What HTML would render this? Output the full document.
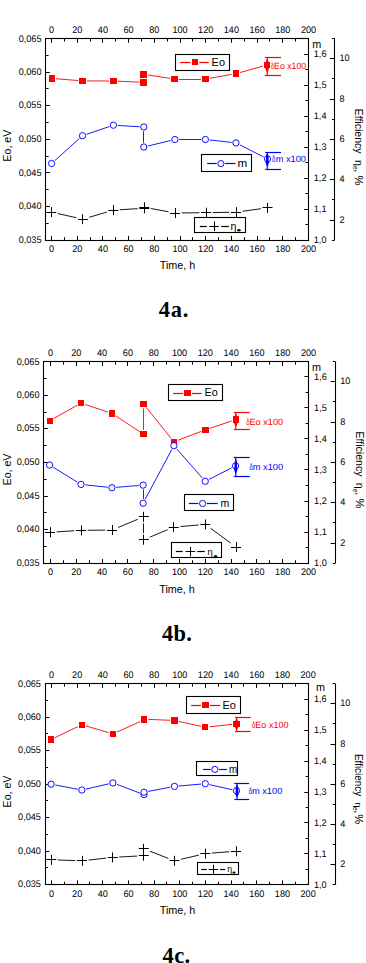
<!DOCTYPE html>
<html><head><meta charset="utf-8"><title>Figure 4</title>
<style>
html,body{margin:0;padding:0;background:#fff;}
body{width:366px;height:963px;overflow:hidden;font-family:"Liberation Sans",sans-serif;}
svg{display:block;}
</style></head><body>
<svg width="366" height="963" viewBox="0 0 366 963">
<rect x="0" y="0" width="366" height="963" fill="#fff"/>
<rect x="45.5" y="38.5" width="263" height="202" fill="none" stroke="#000" stroke-width="1.1"/>
<line x1="51.5" y1="38.5" x2="51.5" y2="42.8" stroke="#000000" stroke-width="1"/>
<line x1="51.5" y1="240.2" x2="51.5" y2="235.9" stroke="#000000" stroke-width="1"/>
<text transform="translate(51.5,33.2) scale(0.95,1)" font-size="9.6" text-anchor="middle" fill="#000000" font-family='"Liberation Sans", sans-serif' text-rendering="geometricPrecision">0</text>
<text transform="translate(51.5,252) scale(0.95,1)" font-size="9.6" text-anchor="middle" fill="#000000" font-family='"Liberation Sans", sans-serif' text-rendering="geometricPrecision">0</text>
<line x1="64.5" y1="38.5" x2="64.5" y2="41.5" stroke="#000000" stroke-width="1"/>
<line x1="64.5" y1="240.2" x2="64.5" y2="237.2" stroke="#000000" stroke-width="1"/>
<line x1="77.5" y1="38.5" x2="77.5" y2="42.8" stroke="#000000" stroke-width="1"/>
<line x1="77.5" y1="240.2" x2="77.5" y2="235.9" stroke="#000000" stroke-width="1"/>
<text transform="translate(77.2,33.2) scale(0.95,1)" font-size="9.6" text-anchor="middle" fill="#000000" font-family='"Liberation Sans", sans-serif' text-rendering="geometricPrecision">20</text>
<text transform="translate(77.2,252) scale(0.95,1)" font-size="9.6" text-anchor="middle" fill="#000000" font-family='"Liberation Sans", sans-serif' text-rendering="geometricPrecision">20</text>
<line x1="90.5" y1="38.5" x2="90.5" y2="41.5" stroke="#000000" stroke-width="1"/>
<line x1="90.5" y1="240.2" x2="90.5" y2="237.2" stroke="#000000" stroke-width="1"/>
<line x1="102.5" y1="38.5" x2="102.5" y2="42.8" stroke="#000000" stroke-width="1"/>
<line x1="102.5" y1="240.2" x2="102.5" y2="235.9" stroke="#000000" stroke-width="1"/>
<text transform="translate(102.9,33.2) scale(0.95,1)" font-size="9.6" text-anchor="middle" fill="#000000" font-family='"Liberation Sans", sans-serif' text-rendering="geometricPrecision">40</text>
<text transform="translate(102.9,252) scale(0.95,1)" font-size="9.6" text-anchor="middle" fill="#000000" font-family='"Liberation Sans", sans-serif' text-rendering="geometricPrecision">40</text>
<line x1="115.5" y1="38.5" x2="115.5" y2="41.5" stroke="#000000" stroke-width="1"/>
<line x1="115.5" y1="240.2" x2="115.5" y2="237.2" stroke="#000000" stroke-width="1"/>
<line x1="128.5" y1="38.5" x2="128.5" y2="42.8" stroke="#000000" stroke-width="1"/>
<line x1="128.5" y1="240.2" x2="128.5" y2="235.9" stroke="#000000" stroke-width="1"/>
<text transform="translate(128.6,33.2) scale(0.95,1)" font-size="9.6" text-anchor="middle" fill="#000000" font-family='"Liberation Sans", sans-serif' text-rendering="geometricPrecision">60</text>
<text transform="translate(128.6,252) scale(0.95,1)" font-size="9.6" text-anchor="middle" fill="#000000" font-family='"Liberation Sans", sans-serif' text-rendering="geometricPrecision">60</text>
<line x1="141.5" y1="38.5" x2="141.5" y2="41.5" stroke="#000000" stroke-width="1"/>
<line x1="141.5" y1="240.2" x2="141.5" y2="237.2" stroke="#000000" stroke-width="1"/>
<line x1="154.5" y1="38.5" x2="154.5" y2="42.8" stroke="#000000" stroke-width="1"/>
<line x1="154.5" y1="240.2" x2="154.5" y2="235.9" stroke="#000000" stroke-width="1"/>
<text transform="translate(154.3,33.2) scale(0.95,1)" font-size="9.6" text-anchor="middle" fill="#000000" font-family='"Liberation Sans", sans-serif' text-rendering="geometricPrecision">80</text>
<text transform="translate(154.3,252) scale(0.95,1)" font-size="9.6" text-anchor="middle" fill="#000000" font-family='"Liberation Sans", sans-serif' text-rendering="geometricPrecision">80</text>
<line x1="167.5" y1="38.5" x2="167.5" y2="41.5" stroke="#000000" stroke-width="1"/>
<line x1="167.5" y1="240.2" x2="167.5" y2="237.2" stroke="#000000" stroke-width="1"/>
<line x1="180.5" y1="38.5" x2="180.5" y2="42.8" stroke="#000000" stroke-width="1"/>
<line x1="180.5" y1="240.2" x2="180.5" y2="235.9" stroke="#000000" stroke-width="1"/>
<text transform="translate(180,33.2) scale(0.95,1)" font-size="9.6" text-anchor="middle" fill="#000000" font-family='"Liberation Sans", sans-serif' text-rendering="geometricPrecision">100</text>
<text transform="translate(180,252) scale(0.95,1)" font-size="9.6" text-anchor="middle" fill="#000000" font-family='"Liberation Sans", sans-serif' text-rendering="geometricPrecision">100</text>
<line x1="192.5" y1="38.5" x2="192.5" y2="41.5" stroke="#000000" stroke-width="1"/>
<line x1="192.5" y1="240.2" x2="192.5" y2="237.2" stroke="#000000" stroke-width="1"/>
<line x1="205.5" y1="38.5" x2="205.5" y2="42.8" stroke="#000000" stroke-width="1"/>
<line x1="205.5" y1="240.2" x2="205.5" y2="235.9" stroke="#000000" stroke-width="1"/>
<text transform="translate(205.7,33.2) scale(0.95,1)" font-size="9.6" text-anchor="middle" fill="#000000" font-family='"Liberation Sans", sans-serif' text-rendering="geometricPrecision">120</text>
<text transform="translate(205.7,252) scale(0.95,1)" font-size="9.6" text-anchor="middle" fill="#000000" font-family='"Liberation Sans", sans-serif' text-rendering="geometricPrecision">120</text>
<line x1="218.5" y1="38.5" x2="218.5" y2="41.5" stroke="#000000" stroke-width="1"/>
<line x1="218.5" y1="240.2" x2="218.5" y2="237.2" stroke="#000000" stroke-width="1"/>
<line x1="231.5" y1="38.5" x2="231.5" y2="42.8" stroke="#000000" stroke-width="1"/>
<line x1="231.5" y1="240.2" x2="231.5" y2="235.9" stroke="#000000" stroke-width="1"/>
<text transform="translate(231.4,33.2) scale(0.95,1)" font-size="9.6" text-anchor="middle" fill="#000000" font-family='"Liberation Sans", sans-serif' text-rendering="geometricPrecision">140</text>
<text transform="translate(231.4,252) scale(0.95,1)" font-size="9.6" text-anchor="middle" fill="#000000" font-family='"Liberation Sans", sans-serif' text-rendering="geometricPrecision">140</text>
<line x1="244.5" y1="38.5" x2="244.5" y2="41.5" stroke="#000000" stroke-width="1"/>
<line x1="244.5" y1="240.2" x2="244.5" y2="237.2" stroke="#000000" stroke-width="1"/>
<line x1="257.5" y1="38.5" x2="257.5" y2="42.8" stroke="#000000" stroke-width="1"/>
<line x1="257.5" y1="240.2" x2="257.5" y2="235.9" stroke="#000000" stroke-width="1"/>
<text transform="translate(257.1,33.2) scale(0.95,1)" font-size="9.6" text-anchor="middle" fill="#000000" font-family='"Liberation Sans", sans-serif' text-rendering="geometricPrecision">160</text>
<text transform="translate(257.1,252) scale(0.95,1)" font-size="9.6" text-anchor="middle" fill="#000000" font-family='"Liberation Sans", sans-serif' text-rendering="geometricPrecision">160</text>
<line x1="269.5" y1="38.5" x2="269.5" y2="41.5" stroke="#000000" stroke-width="1"/>
<line x1="269.5" y1="240.2" x2="269.5" y2="237.2" stroke="#000000" stroke-width="1"/>
<line x1="282.5" y1="38.5" x2="282.5" y2="42.8" stroke="#000000" stroke-width="1"/>
<line x1="282.5" y1="240.2" x2="282.5" y2="235.9" stroke="#000000" stroke-width="1"/>
<text transform="translate(282.8,33.2) scale(0.95,1)" font-size="9.6" text-anchor="middle" fill="#000000" font-family='"Liberation Sans", sans-serif' text-rendering="geometricPrecision">180</text>
<text transform="translate(282.8,252) scale(0.95,1)" font-size="9.6" text-anchor="middle" fill="#000000" font-family='"Liberation Sans", sans-serif' text-rendering="geometricPrecision">180</text>
<line x1="295.5" y1="38.5" x2="295.5" y2="41.5" stroke="#000000" stroke-width="1"/>
<line x1="295.5" y1="240.2" x2="295.5" y2="237.2" stroke="#000000" stroke-width="1"/>
<line x1="308.5" y1="38.5" x2="308.5" y2="42.8" stroke="#000000" stroke-width="1"/>
<line x1="308.5" y1="240.2" x2="308.5" y2="235.9" stroke="#000000" stroke-width="1"/>
<text transform="translate(308.5,33.2) scale(0.95,1)" font-size="9.6" text-anchor="middle" fill="#000000" font-family='"Liberation Sans", sans-serif' text-rendering="geometricPrecision">200</text>
<text transform="translate(308.5,252) scale(0.95,1)" font-size="9.6" text-anchor="middle" fill="#000000" font-family='"Liberation Sans", sans-serif' text-rendering="geometricPrecision">200</text>
<line x1="45.6" y1="240.5" x2="49.9" y2="240.5" stroke="#000000" stroke-width="1"/>
<text transform="translate(41.5,242.8) scale(0.95,1)" font-size="9.6" text-anchor="end" fill="#000000" font-family='"Liberation Sans", sans-serif' text-rendering="geometricPrecision">0,035</text>
<line x1="45.6" y1="223.5" x2="48.6" y2="223.5" stroke="#000000" stroke-width="1"/>
<line x1="45.6" y1="206.5" x2="49.9" y2="206.5" stroke="#000000" stroke-width="1"/>
<text transform="translate(41.5,209.18) scale(0.95,1)" font-size="9.6" text-anchor="end" fill="#000000" font-family='"Liberation Sans", sans-serif' text-rendering="geometricPrecision">0,040</text>
<line x1="45.6" y1="189.5" x2="48.6" y2="189.5" stroke="#000000" stroke-width="1"/>
<line x1="45.6" y1="172.5" x2="49.9" y2="172.5" stroke="#000000" stroke-width="1"/>
<text transform="translate(41.5,175.57) scale(0.95,1)" font-size="9.6" text-anchor="end" fill="#000000" font-family='"Liberation Sans", sans-serif' text-rendering="geometricPrecision">0,045</text>
<line x1="45.6" y1="156.5" x2="48.6" y2="156.5" stroke="#000000" stroke-width="1"/>
<line x1="45.6" y1="139.5" x2="49.9" y2="139.5" stroke="#000000" stroke-width="1"/>
<text transform="translate(41.5,141.95) scale(0.95,1)" font-size="9.6" text-anchor="end" fill="#000000" font-family='"Liberation Sans", sans-serif' text-rendering="geometricPrecision">0,050</text>
<line x1="45.6" y1="122.5" x2="48.6" y2="122.5" stroke="#000000" stroke-width="1"/>
<line x1="45.6" y1="105.5" x2="49.9" y2="105.5" stroke="#000000" stroke-width="1"/>
<text transform="translate(41.5,108.33) scale(0.95,1)" font-size="9.6" text-anchor="end" fill="#000000" font-family='"Liberation Sans", sans-serif' text-rendering="geometricPrecision">0,055</text>
<line x1="45.6" y1="88.5" x2="48.6" y2="88.5" stroke="#000000" stroke-width="1"/>
<line x1="45.6" y1="72.5" x2="49.9" y2="72.5" stroke="#000000" stroke-width="1"/>
<text transform="translate(41.5,74.72) scale(0.95,1)" font-size="9.6" text-anchor="end" fill="#000000" font-family='"Liberation Sans", sans-serif' text-rendering="geometricPrecision">0,060</text>
<line x1="45.6" y1="55.5" x2="48.6" y2="55.5" stroke="#000000" stroke-width="1"/>
<line x1="45.6" y1="38.5" x2="49.9" y2="38.5" stroke="#000000" stroke-width="1"/>
<text transform="translate(41.5,41.8) scale(0.95,1)" font-size="9.6" text-anchor="end" fill="#000000" font-family='"Liberation Sans", sans-serif' text-rendering="geometricPrecision">0,065</text>
<line x1="308.4" y1="240.5" x2="304.1" y2="240.5" stroke="#000000" stroke-width="1"/>
<text transform="translate(313.8,243.1) scale(0.95,1)" font-size="9.6" text-anchor="start" fill="#000000" font-family='"Liberation Sans", sans-serif' text-rendering="geometricPrecision">1,0</text>
<line x1="308.4" y1="224.5" x2="305.4" y2="224.5" stroke="#000000" stroke-width="1"/>
<line x1="308.4" y1="209.5" x2="304.1" y2="209.5" stroke="#000000" stroke-width="1"/>
<text transform="translate(313.8,212.13) scale(0.95,1)" font-size="9.6" text-anchor="start" fill="#000000" font-family='"Liberation Sans", sans-serif' text-rendering="geometricPrecision">1,1</text>
<line x1="308.4" y1="193.5" x2="305.4" y2="193.5" stroke="#000000" stroke-width="1"/>
<line x1="308.4" y1="178.5" x2="304.1" y2="178.5" stroke="#000000" stroke-width="1"/>
<text transform="translate(313.8,181.17) scale(0.95,1)" font-size="9.6" text-anchor="start" fill="#000000" font-family='"Liberation Sans", sans-serif' text-rendering="geometricPrecision">1,2</text>
<line x1="308.4" y1="162.5" x2="305.4" y2="162.5" stroke="#000000" stroke-width="1"/>
<line x1="308.4" y1="147.5" x2="304.1" y2="147.5" stroke="#000000" stroke-width="1"/>
<text transform="translate(313.8,150.2) scale(0.95,1)" font-size="9.6" text-anchor="start" fill="#000000" font-family='"Liberation Sans", sans-serif' text-rendering="geometricPrecision">1,3</text>
<line x1="308.4" y1="131.5" x2="305.4" y2="131.5" stroke="#000000" stroke-width="1"/>
<line x1="308.4" y1="116.5" x2="304.1" y2="116.5" stroke="#000000" stroke-width="1"/>
<text transform="translate(313.8,119.23) scale(0.95,1)" font-size="9.6" text-anchor="start" fill="#000000" font-family='"Liberation Sans", sans-serif' text-rendering="geometricPrecision">1,4</text>
<line x1="308.4" y1="100.5" x2="305.4" y2="100.5" stroke="#000000" stroke-width="1"/>
<line x1="308.4" y1="85.5" x2="304.1" y2="85.5" stroke="#000000" stroke-width="1"/>
<text transform="translate(313.8,88.27) scale(0.95,1)" font-size="9.6" text-anchor="start" fill="#000000" font-family='"Liberation Sans", sans-serif' text-rendering="geometricPrecision">1,5</text>
<line x1="308.4" y1="69.5" x2="305.4" y2="69.5" stroke="#000000" stroke-width="1"/>
<line x1="308.4" y1="54.5" x2="304.1" y2="54.5" stroke="#000000" stroke-width="1"/>
<text transform="translate(313.8,57.3) scale(0.95,1)" font-size="9.6" text-anchor="start" fill="#000000" font-family='"Liberation Sans", sans-serif' text-rendering="geometricPrecision">1,6</text>
<text x="312.2" y="47.8" font-size="10.8" text-anchor="start" fill="#000000" font-family='"Liberation Sans", sans-serif' font-weight="normal">m</text>
<line x1="334.5" y1="38.5" x2="334.5" y2="240.2" stroke="#000000" stroke-width="1.1"/>
<line x1="334.6" y1="240.5" x2="332" y2="240.5" stroke="#000000" stroke-width="1"/>
<line x1="334.6" y1="220.5" x2="329.8" y2="220.5" stroke="#000000" stroke-width="1"/>
<text transform="translate(339.5,222.53) scale(0.95,1)" font-size="9.6" text-anchor="start" fill="#000000" font-family='"Liberation Sans", sans-serif' text-rendering="geometricPrecision">2</text>
<line x1="334.6" y1="199.5" x2="332" y2="199.5" stroke="#000000" stroke-width="1"/>
<line x1="334.6" y1="179.5" x2="329.8" y2="179.5" stroke="#000000" stroke-width="1"/>
<text transform="translate(339.5,182.19) scale(0.95,1)" font-size="9.6" text-anchor="start" fill="#000000" font-family='"Liberation Sans", sans-serif' text-rendering="geometricPrecision">4</text>
<line x1="334.6" y1="159.5" x2="332" y2="159.5" stroke="#000000" stroke-width="1"/>
<line x1="334.6" y1="139.5" x2="329.8" y2="139.5" stroke="#000000" stroke-width="1"/>
<text transform="translate(339.5,141.85) scale(0.95,1)" font-size="9.6" text-anchor="start" fill="#000000" font-family='"Liberation Sans", sans-serif' text-rendering="geometricPrecision">6</text>
<line x1="334.6" y1="119.5" x2="332" y2="119.5" stroke="#000000" stroke-width="1"/>
<line x1="334.6" y1="99.5" x2="329.8" y2="99.5" stroke="#000000" stroke-width="1"/>
<text transform="translate(339.5,101.51) scale(0.95,1)" font-size="9.6" text-anchor="start" fill="#000000" font-family='"Liberation Sans", sans-serif' text-rendering="geometricPrecision">8</text>
<line x1="334.6" y1="78.5" x2="332" y2="78.5" stroke="#000000" stroke-width="1"/>
<line x1="334.6" y1="58.5" x2="329.8" y2="58.5" stroke="#000000" stroke-width="1"/>
<text transform="translate(339.5,61.17) scale(0.95,1)" font-size="9.6" text-anchor="start" fill="#000000" font-family='"Liberation Sans", sans-serif' text-rendering="geometricPrecision">10</text>
<line x1="334.6" y1="38.5" x2="332" y2="38.5" stroke="#000000" stroke-width="1"/>
<text transform="translate(10.8,161.5) rotate(-90)" font-size="11.2" font-family='"Liberation Sans", sans-serif' fill="#000" textLength="31.7" lengthAdjust="spacingAndGlyphs">Eo, eV</text>
<g transform="translate(355.2,108.7) rotate(90)">
<text x="0" y="0" font-size="10.6" font-family='"Liberation Sans", sans-serif' fill="#000" textLength="44.8" lengthAdjust="spacingAndGlyphs">Efficiency</text>
<text x="51.2" y="0" font-size="10.8" font-family='"Liberation Sans", sans-serif' fill="#000">&#951;</text>
<text x="57.2" y="2.2" font-size="6.5" font-family='"Liberation Sans", sans-serif' fill="#000">e</text>
<text x="60.6" y="0" font-size="10.6" font-family='"Liberation Sans", sans-serif' fill="#000">,</text>
<text x="66.8" y="0" font-size="11.2" font-family='"Liberation Sans", sans-serif' fill="#000">%</text>
</g>
<text x="159.7" y="269.2" font-size="11" text-anchor="start" fill="#000000" font-family='"Liberation Sans", sans-serif' font-weight="normal" textLength="35.6" lengthAdjust="spacingAndGlyphs">Time, h</text>
<text x="158.7" y="316.7" font-size="22.5" text-anchor="start" fill="#000000" font-family='"Liberation Serif", serif' font-weight="bold" letter-spacing="0.8">4a.</text>
<line x1="56.19" y1="78.76" x2="78.11" y2="80.54" stroke="#ff0000" stroke-width="0.9"/>
<line x1="86.9" y1="80.91" x2="109" y2="80.99" stroke="#ff0000" stroke-width="0.9"/>
<line x1="117.8" y1="81.19" x2="139.3" y2="82.11" stroke="#ff0000" stroke-width="0.9"/>
<line x1="148.05" y1="74.97" x2="170.05" y2="78.33" stroke="#ff0000" stroke-width="0.9"/>
<line x1="178.8" y1="79.5" x2="201" y2="79.5" stroke="#ff0000" stroke-width="0.9"/>
<line x1="209.73" y1="78.24" x2="231.47" y2="74.46" stroke="#ff0000" stroke-width="0.9"/>
<line x1="240.04" y1="72.52" x2="262.76" y2="66.18" stroke="#ff0000" stroke-width="0.9"/>
<line x1="54.8" y1="160.62" x2="79.3" y2="138.58" stroke="#0000ff" stroke-width="0.9"/>
<line x1="86.57" y1="134.32" x2="109.33" y2="126.58" stroke="#0000ff" stroke-width="0.9"/>
<line x1="117.69" y1="125.45" x2="139.51" y2="126.75" stroke="#0000ff" stroke-width="0.9"/>
<line x1="143.5" y1="131.3" x2="143.5" y2="142.7" stroke="#0000ff" stroke-width="0.9"/>
<line x1="147.98" y1="145.99" x2="170.72" y2="140.51" stroke="#0000ff" stroke-width="0.9"/>
<line x1="179.2" y1="139.5" x2="201.1" y2="139.5" stroke="#0000ff" stroke-width="0.9"/>
<line x1="209.67" y1="139.98" x2="231.63" y2="142.42" stroke="#0000ff" stroke-width="0.9"/>
<line x1="239.74" y1="144.84" x2="263.66" y2="156.96" stroke="#0000ff" stroke-width="0.9"/>
<line x1="57.74" y1="213.55" x2="76.46" y2="217.75" stroke="#000" stroke-width="1" stroke-opacity="0.9"/>
<line x1="89.22" y1="217.3" x2="106.88" y2="212" stroke="#000" stroke-width="1" stroke-opacity="0.9"/>
<line x1="119.79" y1="209.72" x2="137.71" y2="208.68" stroke="#000" stroke-width="1" stroke-opacity="0.9"/>
<line x1="150.79" y1="208.5" x2="168.51" y2="211.8" stroke="#000" stroke-width="1" stroke-opacity="0.9"/>
<line x1="181.6" y1="212.94" x2="199.4" y2="212.76" stroke="#000" stroke-width="1" stroke-opacity="0.9"/>
<line x1="212.6" y1="212.59" x2="229.4" y2="212.31" stroke="#000" stroke-width="1" stroke-opacity="0.9"/>
<line x1="242.54" y1="211.29" x2="260.96" y2="208.71" stroke="#000" stroke-width="1" stroke-opacity="0.9"/>
<rect x="49" y="75" width="6" height="7" fill="#ff0000" shape-rendering="crispEdges"/>
<rect x="79" y="78" width="7" height="6" fill="#ff0000" shape-rendering="crispEdges"/>
<rect x="110" y="78" width="7" height="6" fill="#ff0000" shape-rendering="crispEdges"/>
<rect x="140" y="79" width="7" height="7" fill="#ff0000" shape-rendering="crispEdges"/>
<rect x="140" y="71" width="7" height="7" fill="#ff0000" shape-rendering="crispEdges"/>
<rect x="171" y="76" width="7" height="6" fill="#ff0000" shape-rendering="crispEdges"/>
<rect x="202" y="76" width="7" height="6" fill="#ff0000" shape-rendering="crispEdges"/>
<rect x="233" y="70" width="6" height="7" fill="#ff0000" shape-rendering="crispEdges"/>
<rect x="264" y="62" width="6" height="6" fill="#ff0000" shape-rendering="crispEdges"/>
<circle cx="51.6" cy="163.5" r="3.15" fill="#fff" stroke="#0000ff" stroke-width="0.95"/>
<circle cx="82.5" cy="135.7" r="3.15" fill="#fff" stroke="#0000ff" stroke-width="0.95"/>
<circle cx="113.4" cy="125.2" r="3.15" fill="#fff" stroke="#0000ff" stroke-width="0.95"/>
<circle cx="143.8" cy="127" r="3.15" fill="#fff" stroke="#0000ff" stroke-width="0.95"/>
<circle cx="143.8" cy="147" r="3.15" fill="#fff" stroke="#0000ff" stroke-width="0.95"/>
<circle cx="174.9" cy="139.5" r="3.15" fill="#fff" stroke="#0000ff" stroke-width="0.95"/>
<circle cx="205.4" cy="139.5" r="3.15" fill="#fff" stroke="#0000ff" stroke-width="0.95"/>
<circle cx="235.9" cy="142.9" r="3.15" fill="#fff" stroke="#0000ff" stroke-width="0.95"/>
<circle cx="267.5" cy="158.9" r="3.15" fill="#fff" stroke="#0000ff" stroke-width="0.95"/>
<line x1="46.3" y1="212.5" x2="56.3" y2="212.5" stroke="#000000" stroke-width="1.05"/>
<line x1="51.5" y1="207.1" x2="51.5" y2="217.1" stroke="#000000" stroke-width="1.05"/>
<line x1="77.9" y1="219.5" x2="87.9" y2="219.5" stroke="#000000" stroke-width="1.05"/>
<line x1="82.5" y1="214.2" x2="82.5" y2="224.2" stroke="#000000" stroke-width="1.05"/>
<line x1="108.2" y1="210.5" x2="118.2" y2="210.5" stroke="#000000" stroke-width="1.05"/>
<line x1="113.5" y1="205.1" x2="113.5" y2="215.1" stroke="#000000" stroke-width="1.05"/>
<line x1="139.3" y1="208.5" x2="149.3" y2="208.5" stroke="#000000" stroke-width="1.05"/>
<line x1="144.5" y1="203.3" x2="144.5" y2="213.3" stroke="#000000" stroke-width="1.05"/>
<line x1="139.3" y1="207.5" x2="149.3" y2="207.5" stroke="#000000" stroke-width="1.05"/>
<line x1="144.5" y1="202.3" x2="144.5" y2="212.3" stroke="#000000" stroke-width="1.05"/>
<line x1="170" y1="213.5" x2="180" y2="213.5" stroke="#000000" stroke-width="1.05"/>
<line x1="175.5" y1="208" x2="175.5" y2="218" stroke="#000000" stroke-width="1.05"/>
<line x1="201" y1="212.5" x2="211" y2="212.5" stroke="#000000" stroke-width="1.05"/>
<line x1="206.5" y1="207.7" x2="206.5" y2="217.7" stroke="#000000" stroke-width="1.05"/>
<line x1="231" y1="212.5" x2="241" y2="212.5" stroke="#000000" stroke-width="1.05"/>
<line x1="236.5" y1="207.2" x2="236.5" y2="217.2" stroke="#000000" stroke-width="1.05"/>
<line x1="262.5" y1="207.5" x2="272.5" y2="207.5" stroke="#000000" stroke-width="1.05"/>
<line x1="267.5" y1="202.8" x2="267.5" y2="212.8" stroke="#000000" stroke-width="1.05"/>
<line x1="265" y1="57.5" x2="281" y2="57.5" stroke="#ff0000" stroke-width="1.2"/>
<line x1="265" y1="75.5" x2="281" y2="75.5" stroke="#ff0000" stroke-width="1.2"/>
<line x1="267.2" y1="57.4" x2="267.2" y2="75.4" stroke="#ff0000" stroke-width="1.1"/>
<polygon points="267.2,58 268.5,61.8 268.5,67.6 269.1,68.2 267.2,73.8 265.3,68.2 265.9,67.6 265.9,61.8" fill="#ff0000"/>
<text transform="translate(270.8,68.9) scale(0.68,1)" font-size="8.8" text-anchor="start" fill="#ff0000" font-family='"Liberation Sans", sans-serif' text-rendering="geometricPrecision">&#948;</text>
<text transform="translate(274.1,68.9) scale(0.97,1)" font-size="9" text-anchor="start" fill="#ff0000" font-family='"Liberation Sans", sans-serif' text-rendering="geometricPrecision">Eo x100</text>
<line x1="265.2" y1="152.5" x2="281" y2="152.5" stroke="#0000ff" stroke-width="1.2"/>
<line x1="265.2" y1="169.5" x2="281" y2="169.5" stroke="#0000ff" stroke-width="1.2"/>
<line x1="267.3" y1="152.4" x2="267.3" y2="169.3" stroke="#0000ff" stroke-width="1.1"/>
<polygon points="267.3,153 268.6,155.7 268.6,161.5 269.2,162.1 267.3,167.7 265.4,162.1 266,161.5 266,155.7" fill="#0000ff"/>
<text transform="translate(272,161.8) scale(0.68,1)" font-size="8.8" text-anchor="start" fill="#0000ff" font-family='"Liberation Sans", sans-serif' text-rendering="geometricPrecision">&#948;</text>
<text transform="translate(275.8,161.8) scale(1.02,1)" font-size="9" text-anchor="start" fill="#0000ff" font-family='"Liberation Sans", sans-serif' text-rendering="geometricPrecision">m x100</text>
<rect x="175.5" y="54.5" width="54" height="16" fill="#fff" stroke="#000" stroke-width="1.1"/>
<line x1="180.1" y1="62.5" x2="190.6" y2="62.5" stroke="#ff0000" stroke-width="1.2"/>
<line x1="199.4" y1="62.5" x2="208.7" y2="62.5" stroke="#ff0000" stroke-width="1.2"/>
<rect x="192" y="59" width="6" height="6" fill="#ff0000" shape-rendering="crispEdges"/>
<text x="211.6" y="66.1" font-size="11" text-anchor="start" fill="#000000" font-family='"Liberation Sans", sans-serif' font-weight="normal" textLength="13.4" lengthAdjust="spacingAndGlyphs">Eo</text>
<rect x="201.5" y="154.5" width="50" height="17" fill="#fff" stroke="#000" stroke-width="1.1"/>
<line x1="207.1" y1="163.5" x2="216.7" y2="163.5" stroke="#0000ff" stroke-width="1.2"/>
<line x1="225.1" y1="163.5" x2="235.5" y2="163.5" stroke="#0000ff" stroke-width="1.2"/>
<circle cx="220.9" cy="163.6" r="3.1" fill="#fff" stroke="#0000ff" stroke-width="0.95"/>
<text x="237.4" y="166.8" font-size="11.4" text-anchor="start" fill="#000000" font-family='"Liberation Sans", sans-serif' font-weight="normal" textLength="9.7" lengthAdjust="spacingAndGlyphs">m</text>
<rect x="194.5" y="217.5" width="51" height="15" fill="#fff" stroke="#000" stroke-width="1.1"/>
<line x1="199.8" y1="226.5" x2="206.7" y2="226.5" stroke="#000000" stroke-width="1.2"/>
<line x1="221.2" y1="226.5" x2="228.8" y2="226.5" stroke="#000000" stroke-width="1.2"/>
<line x1="209.2" y1="226.5" x2="218.8" y2="226.5" stroke="#000000" stroke-width="1.05"/>
<line x1="214.5" y1="221.5" x2="214.5" y2="231.1" stroke="#000000" stroke-width="1.05"/>
<text x="230.5" y="229.8" font-size="10.6" text-anchor="start" fill="#000000" font-family='"Liberation Sans", sans-serif' font-weight="normal">&#951;</text>
<ellipse cx="238.9" cy="230.2" rx="1.8" ry="1.3" fill="#111"/>
<rect x="43.5" y="361.5" width="265" height="202" fill="none" stroke="#000" stroke-width="1.1"/>
<line x1="50.5" y1="361.6" x2="50.5" y2="365.9" stroke="#000000" stroke-width="1"/>
<line x1="50.5" y1="563.3" x2="50.5" y2="559" stroke="#000000" stroke-width="1"/>
<text transform="translate(50.5,356.3) scale(0.95,1)" font-size="9.6" text-anchor="middle" fill="#000000" font-family='"Liberation Sans", sans-serif' text-rendering="geometricPrecision">0</text>
<text transform="translate(50.5,575.1) scale(0.95,1)" font-size="9.6" text-anchor="middle" fill="#000000" font-family='"Liberation Sans", sans-serif' text-rendering="geometricPrecision">0</text>
<line x1="63.5" y1="361.6" x2="63.5" y2="364.6" stroke="#000000" stroke-width="1"/>
<line x1="63.5" y1="563.3" x2="63.5" y2="560.3" stroke="#000000" stroke-width="1"/>
<line x1="76.5" y1="361.6" x2="76.5" y2="365.9" stroke="#000000" stroke-width="1"/>
<line x1="76.5" y1="563.3" x2="76.5" y2="559" stroke="#000000" stroke-width="1"/>
<text transform="translate(76.3,356.3) scale(0.95,1)" font-size="9.6" text-anchor="middle" fill="#000000" font-family='"Liberation Sans", sans-serif' text-rendering="geometricPrecision">20</text>
<text transform="translate(76.3,575.1) scale(0.95,1)" font-size="9.6" text-anchor="middle" fill="#000000" font-family='"Liberation Sans", sans-serif' text-rendering="geometricPrecision">20</text>
<line x1="89.5" y1="361.6" x2="89.5" y2="364.6" stroke="#000000" stroke-width="1"/>
<line x1="89.5" y1="563.3" x2="89.5" y2="560.3" stroke="#000000" stroke-width="1"/>
<line x1="102.5" y1="361.6" x2="102.5" y2="365.9" stroke="#000000" stroke-width="1"/>
<line x1="102.5" y1="563.3" x2="102.5" y2="559" stroke="#000000" stroke-width="1"/>
<text transform="translate(102.1,356.3) scale(0.95,1)" font-size="9.6" text-anchor="middle" fill="#000000" font-family='"Liberation Sans", sans-serif' text-rendering="geometricPrecision">40</text>
<text transform="translate(102.1,575.1) scale(0.95,1)" font-size="9.6" text-anchor="middle" fill="#000000" font-family='"Liberation Sans", sans-serif' text-rendering="geometricPrecision">40</text>
<line x1="115.5" y1="361.6" x2="115.5" y2="364.6" stroke="#000000" stroke-width="1"/>
<line x1="115.5" y1="563.3" x2="115.5" y2="560.3" stroke="#000000" stroke-width="1"/>
<line x1="127.5" y1="361.6" x2="127.5" y2="365.9" stroke="#000000" stroke-width="1"/>
<line x1="127.5" y1="563.3" x2="127.5" y2="559" stroke="#000000" stroke-width="1"/>
<text transform="translate(127.9,356.3) scale(0.95,1)" font-size="9.6" text-anchor="middle" fill="#000000" font-family='"Liberation Sans", sans-serif' text-rendering="geometricPrecision">60</text>
<text transform="translate(127.9,575.1) scale(0.95,1)" font-size="9.6" text-anchor="middle" fill="#000000" font-family='"Liberation Sans", sans-serif' text-rendering="geometricPrecision">60</text>
<line x1="140.5" y1="361.6" x2="140.5" y2="364.6" stroke="#000000" stroke-width="1"/>
<line x1="140.5" y1="563.3" x2="140.5" y2="560.3" stroke="#000000" stroke-width="1"/>
<line x1="153.5" y1="361.6" x2="153.5" y2="365.9" stroke="#000000" stroke-width="1"/>
<line x1="153.5" y1="563.3" x2="153.5" y2="559" stroke="#000000" stroke-width="1"/>
<text transform="translate(153.7,356.3) scale(0.95,1)" font-size="9.6" text-anchor="middle" fill="#000000" font-family='"Liberation Sans", sans-serif' text-rendering="geometricPrecision">80</text>
<text transform="translate(153.7,575.1) scale(0.95,1)" font-size="9.6" text-anchor="middle" fill="#000000" font-family='"Liberation Sans", sans-serif' text-rendering="geometricPrecision">80</text>
<line x1="166.5" y1="361.6" x2="166.5" y2="364.6" stroke="#000000" stroke-width="1"/>
<line x1="166.5" y1="563.3" x2="166.5" y2="560.3" stroke="#000000" stroke-width="1"/>
<line x1="179.5" y1="361.6" x2="179.5" y2="365.9" stroke="#000000" stroke-width="1"/>
<line x1="179.5" y1="563.3" x2="179.5" y2="559" stroke="#000000" stroke-width="1"/>
<text transform="translate(179.5,356.3) scale(0.95,1)" font-size="9.6" text-anchor="middle" fill="#000000" font-family='"Liberation Sans", sans-serif' text-rendering="geometricPrecision">100</text>
<text transform="translate(179.5,575.1) scale(0.95,1)" font-size="9.6" text-anchor="middle" fill="#000000" font-family='"Liberation Sans", sans-serif' text-rendering="geometricPrecision">100</text>
<line x1="192.5" y1="361.6" x2="192.5" y2="364.6" stroke="#000000" stroke-width="1"/>
<line x1="192.5" y1="563.3" x2="192.5" y2="560.3" stroke="#000000" stroke-width="1"/>
<line x1="205.5" y1="361.6" x2="205.5" y2="365.9" stroke="#000000" stroke-width="1"/>
<line x1="205.5" y1="563.3" x2="205.5" y2="559" stroke="#000000" stroke-width="1"/>
<text transform="translate(205.3,356.3) scale(0.95,1)" font-size="9.6" text-anchor="middle" fill="#000000" font-family='"Liberation Sans", sans-serif' text-rendering="geometricPrecision">120</text>
<text transform="translate(205.3,575.1) scale(0.95,1)" font-size="9.6" text-anchor="middle" fill="#000000" font-family='"Liberation Sans", sans-serif' text-rendering="geometricPrecision">120</text>
<line x1="218.5" y1="361.6" x2="218.5" y2="364.6" stroke="#000000" stroke-width="1"/>
<line x1="218.5" y1="563.3" x2="218.5" y2="560.3" stroke="#000000" stroke-width="1"/>
<line x1="231.5" y1="361.6" x2="231.5" y2="365.9" stroke="#000000" stroke-width="1"/>
<line x1="231.5" y1="563.3" x2="231.5" y2="559" stroke="#000000" stroke-width="1"/>
<text transform="translate(231.1,356.3) scale(0.95,1)" font-size="9.6" text-anchor="middle" fill="#000000" font-family='"Liberation Sans", sans-serif' text-rendering="geometricPrecision">140</text>
<text transform="translate(231.1,575.1) scale(0.95,1)" font-size="9.6" text-anchor="middle" fill="#000000" font-family='"Liberation Sans", sans-serif' text-rendering="geometricPrecision">140</text>
<line x1="244.5" y1="361.6" x2="244.5" y2="364.6" stroke="#000000" stroke-width="1"/>
<line x1="244.5" y1="563.3" x2="244.5" y2="560.3" stroke="#000000" stroke-width="1"/>
<line x1="256.5" y1="361.6" x2="256.5" y2="365.9" stroke="#000000" stroke-width="1"/>
<line x1="256.5" y1="563.3" x2="256.5" y2="559" stroke="#000000" stroke-width="1"/>
<text transform="translate(256.9,356.3) scale(0.95,1)" font-size="9.6" text-anchor="middle" fill="#000000" font-family='"Liberation Sans", sans-serif' text-rendering="geometricPrecision">160</text>
<text transform="translate(256.9,575.1) scale(0.95,1)" font-size="9.6" text-anchor="middle" fill="#000000" font-family='"Liberation Sans", sans-serif' text-rendering="geometricPrecision">160</text>
<line x1="269.5" y1="361.6" x2="269.5" y2="364.6" stroke="#000000" stroke-width="1"/>
<line x1="269.5" y1="563.3" x2="269.5" y2="560.3" stroke="#000000" stroke-width="1"/>
<line x1="282.5" y1="361.6" x2="282.5" y2="365.9" stroke="#000000" stroke-width="1"/>
<line x1="282.5" y1="563.3" x2="282.5" y2="559" stroke="#000000" stroke-width="1"/>
<text transform="translate(282.7,356.3) scale(0.95,1)" font-size="9.6" text-anchor="middle" fill="#000000" font-family='"Liberation Sans", sans-serif' text-rendering="geometricPrecision">180</text>
<text transform="translate(282.7,575.1) scale(0.95,1)" font-size="9.6" text-anchor="middle" fill="#000000" font-family='"Liberation Sans", sans-serif' text-rendering="geometricPrecision">180</text>
<line x1="295.5" y1="361.6" x2="295.5" y2="364.6" stroke="#000000" stroke-width="1"/>
<line x1="295.5" y1="563.3" x2="295.5" y2="560.3" stroke="#000000" stroke-width="1"/>
<line x1="308.5" y1="361.6" x2="308.5" y2="365.9" stroke="#000000" stroke-width="1"/>
<line x1="308.5" y1="563.3" x2="308.5" y2="559" stroke="#000000" stroke-width="1"/>
<text transform="translate(308.5,356.3) scale(0.95,1)" font-size="9.6" text-anchor="middle" fill="#000000" font-family='"Liberation Sans", sans-serif' text-rendering="geometricPrecision">200</text>
<text transform="translate(308.5,575.1) scale(0.95,1)" font-size="9.6" text-anchor="middle" fill="#000000" font-family='"Liberation Sans", sans-serif' text-rendering="geometricPrecision">200</text>
<line x1="43.6" y1="563.5" x2="47.9" y2="563.5" stroke="#000000" stroke-width="1"/>
<text transform="translate(39.5,565.9) scale(0.95,1)" font-size="9.6" text-anchor="end" fill="#000000" font-family='"Liberation Sans", sans-serif' text-rendering="geometricPrecision">0,035</text>
<line x1="43.6" y1="546.5" x2="46.6" y2="546.5" stroke="#000000" stroke-width="1"/>
<line x1="43.6" y1="529.5" x2="47.9" y2="529.5" stroke="#000000" stroke-width="1"/>
<text transform="translate(39.5,532.28) scale(0.95,1)" font-size="9.6" text-anchor="end" fill="#000000" font-family='"Liberation Sans", sans-serif' text-rendering="geometricPrecision">0,040</text>
<line x1="43.6" y1="512.5" x2="46.6" y2="512.5" stroke="#000000" stroke-width="1"/>
<line x1="43.6" y1="496.5" x2="47.9" y2="496.5" stroke="#000000" stroke-width="1"/>
<text transform="translate(39.5,498.67) scale(0.95,1)" font-size="9.6" text-anchor="end" fill="#000000" font-family='"Liberation Sans", sans-serif' text-rendering="geometricPrecision">0,045</text>
<line x1="43.6" y1="479.5" x2="46.6" y2="479.5" stroke="#000000" stroke-width="1"/>
<line x1="43.6" y1="462.5" x2="47.9" y2="462.5" stroke="#000000" stroke-width="1"/>
<text transform="translate(39.5,465.05) scale(0.95,1)" font-size="9.6" text-anchor="end" fill="#000000" font-family='"Liberation Sans", sans-serif' text-rendering="geometricPrecision">0,050</text>
<line x1="43.6" y1="445.5" x2="46.6" y2="445.5" stroke="#000000" stroke-width="1"/>
<line x1="43.6" y1="428.5" x2="47.9" y2="428.5" stroke="#000000" stroke-width="1"/>
<text transform="translate(39.5,431.43) scale(0.95,1)" font-size="9.6" text-anchor="end" fill="#000000" font-family='"Liberation Sans", sans-serif' text-rendering="geometricPrecision">0,055</text>
<line x1="43.6" y1="412.5" x2="46.6" y2="412.5" stroke="#000000" stroke-width="1"/>
<line x1="43.6" y1="395.5" x2="47.9" y2="395.5" stroke="#000000" stroke-width="1"/>
<text transform="translate(39.5,397.82) scale(0.95,1)" font-size="9.6" text-anchor="end" fill="#000000" font-family='"Liberation Sans", sans-serif' text-rendering="geometricPrecision">0,060</text>
<line x1="43.6" y1="378.5" x2="46.6" y2="378.5" stroke="#000000" stroke-width="1"/>
<line x1="43.6" y1="361.5" x2="47.9" y2="361.5" stroke="#000000" stroke-width="1"/>
<text transform="translate(39.5,364.9) scale(0.95,1)" font-size="9.6" text-anchor="end" fill="#000000" font-family='"Liberation Sans", sans-serif' text-rendering="geometricPrecision">0,065</text>
<line x1="308.7" y1="563.5" x2="304.4" y2="563.5" stroke="#000000" stroke-width="1"/>
<text transform="translate(314.1,566.2) scale(0.95,1)" font-size="9.6" text-anchor="start" fill="#000000" font-family='"Liberation Sans", sans-serif' text-rendering="geometricPrecision">1,0</text>
<line x1="308.7" y1="547.5" x2="305.7" y2="547.5" stroke="#000000" stroke-width="1"/>
<line x1="308.7" y1="532.5" x2="304.4" y2="532.5" stroke="#000000" stroke-width="1"/>
<text transform="translate(314.1,535.08) scale(0.95,1)" font-size="9.6" text-anchor="start" fill="#000000" font-family='"Liberation Sans", sans-serif' text-rendering="geometricPrecision">1,1</text>
<line x1="308.7" y1="516.5" x2="305.7" y2="516.5" stroke="#000000" stroke-width="1"/>
<line x1="308.7" y1="501.5" x2="304.4" y2="501.5" stroke="#000000" stroke-width="1"/>
<text transform="translate(314.1,503.97) scale(0.95,1)" font-size="9.6" text-anchor="start" fill="#000000" font-family='"Liberation Sans", sans-serif' text-rendering="geometricPrecision">1,2</text>
<line x1="308.7" y1="485.5" x2="305.7" y2="485.5" stroke="#000000" stroke-width="1"/>
<line x1="308.7" y1="469.5" x2="304.4" y2="469.5" stroke="#000000" stroke-width="1"/>
<text transform="translate(314.1,472.85) scale(0.95,1)" font-size="9.6" text-anchor="start" fill="#000000" font-family='"Liberation Sans", sans-serif' text-rendering="geometricPrecision">1,3</text>
<line x1="308.7" y1="454.5" x2="305.7" y2="454.5" stroke="#000000" stroke-width="1"/>
<line x1="308.7" y1="438.5" x2="304.4" y2="438.5" stroke="#000000" stroke-width="1"/>
<text transform="translate(314.1,441.73) scale(0.95,1)" font-size="9.6" text-anchor="start" fill="#000000" font-family='"Liberation Sans", sans-serif' text-rendering="geometricPrecision">1,4</text>
<line x1="308.7" y1="423.5" x2="305.7" y2="423.5" stroke="#000000" stroke-width="1"/>
<line x1="308.7" y1="407.5" x2="304.4" y2="407.5" stroke="#000000" stroke-width="1"/>
<text transform="translate(314.1,410.62) scale(0.95,1)" font-size="9.6" text-anchor="start" fill="#000000" font-family='"Liberation Sans", sans-serif' text-rendering="geometricPrecision">1,5</text>
<line x1="308.7" y1="392.5" x2="305.7" y2="392.5" stroke="#000000" stroke-width="1"/>
<line x1="308.7" y1="376.5" x2="304.4" y2="376.5" stroke="#000000" stroke-width="1"/>
<text transform="translate(314.1,379.5) scale(0.95,1)" font-size="9.6" text-anchor="start" fill="#000000" font-family='"Liberation Sans", sans-serif' text-rendering="geometricPrecision">1,6</text>
<text x="311.9" y="370.9" font-size="10.8" text-anchor="start" fill="#000000" font-family='"Liberation Sans", sans-serif' font-weight="normal">m</text>
<line x1="335.5" y1="361.6" x2="335.5" y2="563.3" stroke="#000000" stroke-width="1.1"/>
<line x1="335.4" y1="563.5" x2="332.8" y2="563.5" stroke="#000000" stroke-width="1"/>
<line x1="335.4" y1="543.5" x2="330.6" y2="543.5" stroke="#000000" stroke-width="1"/>
<text transform="translate(340.3,545.63) scale(0.95,1)" font-size="9.6" text-anchor="start" fill="#000000" font-family='"Liberation Sans", sans-serif' text-rendering="geometricPrecision">2</text>
<line x1="335.4" y1="522.5" x2="332.8" y2="522.5" stroke="#000000" stroke-width="1"/>
<line x1="335.4" y1="502.5" x2="330.6" y2="502.5" stroke="#000000" stroke-width="1"/>
<text transform="translate(340.3,505.29) scale(0.95,1)" font-size="9.6" text-anchor="start" fill="#000000" font-family='"Liberation Sans", sans-serif' text-rendering="geometricPrecision">4</text>
<line x1="335.4" y1="482.5" x2="332.8" y2="482.5" stroke="#000000" stroke-width="1"/>
<line x1="335.4" y1="462.5" x2="330.6" y2="462.5" stroke="#000000" stroke-width="1"/>
<text transform="translate(340.3,464.95) scale(0.95,1)" font-size="9.6" text-anchor="start" fill="#000000" font-family='"Liberation Sans", sans-serif' text-rendering="geometricPrecision">6</text>
<line x1="335.4" y1="442.5" x2="332.8" y2="442.5" stroke="#000000" stroke-width="1"/>
<line x1="335.4" y1="422.5" x2="330.6" y2="422.5" stroke="#000000" stroke-width="1"/>
<text transform="translate(340.3,424.61) scale(0.95,1)" font-size="9.6" text-anchor="start" fill="#000000" font-family='"Liberation Sans", sans-serif' text-rendering="geometricPrecision">8</text>
<line x1="335.4" y1="401.5" x2="332.8" y2="401.5" stroke="#000000" stroke-width="1"/>
<line x1="335.4" y1="381.5" x2="330.6" y2="381.5" stroke="#000000" stroke-width="1"/>
<text transform="translate(340.3,384.27) scale(0.95,1)" font-size="9.6" text-anchor="start" fill="#000000" font-family='"Liberation Sans", sans-serif' text-rendering="geometricPrecision">10</text>
<line x1="335.4" y1="361.5" x2="332.8" y2="361.5" stroke="#000000" stroke-width="1"/>
<text transform="translate(10.5,485.3) rotate(-90)" font-size="11.2" font-family='"Liberation Sans", sans-serif' fill="#000" textLength="31.7" lengthAdjust="spacingAndGlyphs">Eo, eV</text>
<g transform="translate(355.6,431.6) rotate(90)">
<text x="0" y="0" font-size="10.6" font-family='"Liberation Sans", sans-serif' fill="#000" textLength="44.8" lengthAdjust="spacingAndGlyphs">Efficiency</text>
<text x="51.2" y="0" font-size="10.8" font-family='"Liberation Sans", sans-serif' fill="#000">&#951;</text>
<text x="57.2" y="2.2" font-size="6.5" font-family='"Liberation Sans", sans-serif' fill="#000">e</text>
<text x="60.6" y="0" font-size="10.6" font-family='"Liberation Sans", sans-serif' fill="#000">,</text>
<text x="66.8" y="0" font-size="11.2" font-family='"Liberation Sans", sans-serif' fill="#000">%</text>
</g>
<text x="159.2" y="593" font-size="11" text-anchor="start" fill="#000000" font-family='"Liberation Sans", sans-serif' font-weight="normal" textLength="35.6" lengthAdjust="spacingAndGlyphs">Time, h</text>
<text x="161.9" y="640.9" font-size="22.4" text-anchor="start" fill="#000000" font-family='"Liberation Serif", serif' font-weight="bold" letter-spacing="0.3">4b.</text>
<line x1="53.63" y1="418.54" x2="77.17" y2="405.26" stroke="#ff0000" stroke-width="0.9"/>
<line x1="85.17" y1="404.49" x2="107.73" y2="412.01" stroke="#ff0000" stroke-width="0.9"/>
<line x1="115.58" y1="415.82" x2="139.82" y2="431.78" stroke="#ff0000" stroke-width="0.9"/>
<line x1="143.5" y1="429.8" x2="143.5" y2="408.4" stroke="#ff0000" stroke-width="0.9"/>
<line x1="146.26" y1="407.43" x2="171.14" y2="438.37" stroke="#ff0000" stroke-width="0.9"/>
<line x1="178.01" y1="440.23" x2="201.29" y2="431.37" stroke="#ff0000" stroke-width="0.9"/>
<line x1="209.57" y1="428.4" x2="231.63" y2="421" stroke="#ff0000" stroke-width="0.9"/>
<line x1="53.26" y1="467.26" x2="77.34" y2="482.14" stroke="#0000ff" stroke-width="0.9"/>
<line x1="85.28" y1="484.86" x2="107.62" y2="487.24" stroke="#0000ff" stroke-width="0.9"/>
<line x1="116.19" y1="487.34" x2="138.81" y2="485.46" stroke="#0000ff" stroke-width="0.9"/>
<line x1="143.5" y1="489.4" x2="143.5" y2="498.9" stroke="#0000ff" stroke-width="0.9"/>
<line x1="145.13" y1="499.41" x2="171.87" y2="449.39" stroke="#0000ff" stroke-width="0.9"/>
<line x1="176.73" y1="448.83" x2="202.37" y2="478.07" stroke="#0000ff" stroke-width="0.9"/>
<line x1="209.04" y1="479.36" x2="231.76" y2="467.84" stroke="#0000ff" stroke-width="0.9"/>
<line x1="56.59" y1="531.82" x2="74.41" y2="530.78" stroke="#000" stroke-width="1" stroke-opacity="0.9"/>
<line x1="87.6" y1="530.31" x2="105.4" y2="530.09" stroke="#000" stroke-width="1" stroke-opacity="0.9"/>
<line x1="118.1" y1="527.47" x2="137.7" y2="519.33" stroke="#000" stroke-width="1" stroke-opacity="0.9"/>
<line x1="143.5" y1="523.4" x2="143.5" y2="533.1" stroke="#000" stroke-width="1" stroke-opacity="0.9"/>
<line x1="149.89" y1="537.14" x2="167.71" y2="529.66" stroke="#000" stroke-width="1" stroke-opacity="0.9"/>
<line x1="180.38" y1="526.54" x2="198.72" y2="524.96" stroke="#000" stroke-width="1" stroke-opacity="0.9"/>
<line x1="210.62" y1="528.31" x2="230.68" y2="543.09" stroke="#000" stroke-width="1" stroke-opacity="0.9"/>
<rect x="47" y="418" width="6" height="6" fill="#ff0000" shape-rendering="crispEdges"/>
<rect x="78" y="400" width="6" height="6" fill="#ff0000" shape-rendering="crispEdges"/>
<rect x="109" y="410" width="6" height="7" fill="#ff0000" shape-rendering="crispEdges"/>
<rect x="140" y="431" width="7" height="6" fill="#ff0000" shape-rendering="crispEdges"/>
<rect x="140" y="401" width="7" height="6" fill="#ff0000" shape-rendering="crispEdges"/>
<rect x="171" y="439" width="6" height="6" fill="#ff0000" shape-rendering="crispEdges"/>
<rect x="202" y="427" width="7" height="6" fill="#ff0000" shape-rendering="crispEdges"/>
<rect x="233" y="416" width="6" height="7" fill="#ff0000" shape-rendering="crispEdges"/>
<circle cx="49.6" cy="465" r="3.15" fill="#fff" stroke="#0000ff" stroke-width="0.95"/>
<circle cx="81" cy="484.4" r="3.15" fill="#fff" stroke="#0000ff" stroke-width="0.95"/>
<circle cx="111.9" cy="487.7" r="3.15" fill="#fff" stroke="#0000ff" stroke-width="0.95"/>
<circle cx="143.1" cy="485.1" r="3.15" fill="#fff" stroke="#0000ff" stroke-width="0.95"/>
<circle cx="143.1" cy="503.2" r="3.15" fill="#fff" stroke="#0000ff" stroke-width="0.95"/>
<circle cx="173.9" cy="445.6" r="3.15" fill="#fff" stroke="#0000ff" stroke-width="0.95"/>
<circle cx="205.2" cy="481.3" r="3.15" fill="#fff" stroke="#0000ff" stroke-width="0.95"/>
<circle cx="235.6" cy="465.9" r="3.15" fill="#fff" stroke="#0000ff" stroke-width="0.95"/>
<line x1="45" y1="532.5" x2="55" y2="532.5" stroke="#000000" stroke-width="1.05"/>
<line x1="50.5" y1="527.2" x2="50.5" y2="537.2" stroke="#000000" stroke-width="1.05"/>
<line x1="76" y1="530.5" x2="86" y2="530.5" stroke="#000000" stroke-width="1.05"/>
<line x1="81.5" y1="525.4" x2="81.5" y2="535.4" stroke="#000000" stroke-width="1.05"/>
<line x1="107" y1="530.5" x2="117" y2="530.5" stroke="#000000" stroke-width="1.05"/>
<line x1="112.5" y1="525" x2="112.5" y2="535" stroke="#000000" stroke-width="1.05"/>
<line x1="138.8" y1="516.5" x2="148.8" y2="516.5" stroke="#000000" stroke-width="1.05"/>
<line x1="143.5" y1="511.8" x2="143.5" y2="521.8" stroke="#000000" stroke-width="1.05"/>
<line x1="138.8" y1="539.5" x2="148.8" y2="539.5" stroke="#000000" stroke-width="1.05"/>
<line x1="143.5" y1="534.7" x2="143.5" y2="544.7" stroke="#000000" stroke-width="1.05"/>
<line x1="168.8" y1="527.5" x2="178.8" y2="527.5" stroke="#000000" stroke-width="1.05"/>
<line x1="173.5" y1="522.1" x2="173.5" y2="532.1" stroke="#000000" stroke-width="1.05"/>
<line x1="200.3" y1="524.5" x2="210.3" y2="524.5" stroke="#000000" stroke-width="1.05"/>
<line x1="205.5" y1="519.4" x2="205.5" y2="529.4" stroke="#000000" stroke-width="1.05"/>
<line x1="231" y1="547.5" x2="241" y2="547.5" stroke="#000000" stroke-width="1.05"/>
<line x1="236.5" y1="542" x2="236.5" y2="552" stroke="#000000" stroke-width="1.05"/>
<line x1="233.8" y1="412.5" x2="249.7" y2="412.5" stroke="#ff0000" stroke-width="1.2"/>
<line x1="233.8" y1="429.5" x2="249.7" y2="429.5" stroke="#ff0000" stroke-width="1.2"/>
<line x1="235.8" y1="412.1" x2="235.8" y2="429.2" stroke="#ff0000" stroke-width="1.1"/>
<polygon points="235.8,412.7 237.1,416.4 237.1,422.2 237.7,422.8 235.8,427.6 233.9,422.8 234.5,422.2 234.5,416.4" fill="#ff0000"/>
<text transform="translate(246.2,424.9) scale(0.68,1)" font-size="8.8" text-anchor="start" fill="#ff0000" font-family='"Liberation Sans", sans-serif' text-rendering="geometricPrecision">&#948;</text>
<text transform="translate(249.5,424.9) scale(1.02,1)" font-size="9" text-anchor="start" fill="#ff0000" font-family='"Liberation Sans", sans-serif' text-rendering="geometricPrecision">Eo x100</text>
<line x1="233.8" y1="457.5" x2="249.7" y2="457.5" stroke="#0000ff" stroke-width="1.2"/>
<line x1="233.8" y1="476.5" x2="249.7" y2="476.5" stroke="#0000ff" stroke-width="1.2"/>
<line x1="235.8" y1="457.3" x2="235.8" y2="476.2" stroke="#0000ff" stroke-width="1.1"/>
<polygon points="235.8,457.9 237.1,462.7 237.1,468.5 237.7,469.1 235.8,474.6 233.9,469.1 234.5,468.5 234.5,462.7" fill="#0000ff"/>
<text transform="translate(249.5,469.8) scale(0.68,1)" font-size="8.8" text-anchor="start" fill="#0000ff" font-family='"Liberation Sans", sans-serif' text-rendering="geometricPrecision">&#948;</text>
<text transform="translate(252.7,469.8) scale(1.03,1)" font-size="9" text-anchor="start" fill="#0000ff" font-family='"Liberation Sans", sans-serif' text-rendering="geometricPrecision">m x100</text>
<rect x="168.5" y="384.5" width="54" height="16" fill="#fff" stroke="#000" stroke-width="1.1"/>
<line x1="173.1" y1="393.5" x2="183.1" y2="393.5" stroke="#ff0000" stroke-width="1.2"/>
<line x1="191.9" y1="393.5" x2="201.7" y2="393.5" stroke="#ff0000" stroke-width="1.2"/>
<rect x="184" y="390" width="7" height="6" fill="#ff0000" shape-rendering="crispEdges"/>
<text x="204.5" y="396" font-size="11" text-anchor="start" fill="#000000" font-family='"Liberation Sans", sans-serif' font-weight="normal" textLength="13.3" lengthAdjust="spacingAndGlyphs">Eo</text>
<rect x="184.5" y="494.5" width="49" height="16" fill="#fff" stroke="#000" stroke-width="1.1"/>
<line x1="188.9" y1="503.5" x2="198.4" y2="503.5" stroke="#0000ff" stroke-width="1.2"/>
<line x1="206.8" y1="503.5" x2="217.7" y2="503.5" stroke="#0000ff" stroke-width="1.2"/>
<circle cx="202.6" cy="503.5" r="3.1" fill="#fff" stroke="#0000ff" stroke-width="0.95"/>
<text x="220.4" y="506.8" font-size="11" text-anchor="start" fill="#000000" font-family='"Liberation Sans", sans-serif' font-weight="normal" textLength="8.8" lengthAdjust="spacingAndGlyphs">m</text>
<rect x="171.5" y="542.5" width="50" height="15" fill="#fff" stroke="#000" stroke-width="1.1"/>
<line x1="175.8" y1="551.5" x2="182.7" y2="551.5" stroke="#000000" stroke-width="1.2"/>
<line x1="197.2" y1="551.5" x2="204.8" y2="551.5" stroke="#000000" stroke-width="1.2"/>
<line x1="185.6" y1="551.5" x2="195.2" y2="551.5" stroke="#000000" stroke-width="1.05"/>
<line x1="190.5" y1="546.8" x2="190.5" y2="556.4" stroke="#000000" stroke-width="1.05"/>
<text x="207.4" y="555.4" font-size="9.5" text-anchor="start" fill="#000000" font-family='"Liberation Sans", sans-serif' font-weight="normal">&#951;</text>
<ellipse cx="215.6" cy="556.7" rx="1.9" ry="1.6" fill="#111"/>
<rect x="45.5" y="683.5" width="263" height="201" fill="none" stroke="#000" stroke-width="1.1"/>
<line x1="51.5" y1="683.7" x2="51.5" y2="688" stroke="#000000" stroke-width="1"/>
<line x1="51.5" y1="884.7" x2="51.5" y2="880.4" stroke="#000000" stroke-width="1"/>
<text transform="translate(51.5,678.4) scale(0.95,1)" font-size="9.6" text-anchor="middle" fill="#000000" font-family='"Liberation Sans", sans-serif' text-rendering="geometricPrecision">0</text>
<text transform="translate(51.5,896.5) scale(0.95,1)" font-size="9.6" text-anchor="middle" fill="#000000" font-family='"Liberation Sans", sans-serif' text-rendering="geometricPrecision">0</text>
<line x1="64.5" y1="683.7" x2="64.5" y2="686.7" stroke="#000000" stroke-width="1"/>
<line x1="64.5" y1="884.7" x2="64.5" y2="881.7" stroke="#000000" stroke-width="1"/>
<line x1="77.5" y1="683.7" x2="77.5" y2="688" stroke="#000000" stroke-width="1"/>
<line x1="77.5" y1="884.7" x2="77.5" y2="880.4" stroke="#000000" stroke-width="1"/>
<text transform="translate(77.16,678.4) scale(0.95,1)" font-size="9.6" text-anchor="middle" fill="#000000" font-family='"Liberation Sans", sans-serif' text-rendering="geometricPrecision">20</text>
<text transform="translate(77.16,896.5) scale(0.95,1)" font-size="9.6" text-anchor="middle" fill="#000000" font-family='"Liberation Sans", sans-serif' text-rendering="geometricPrecision">20</text>
<line x1="89.5" y1="683.7" x2="89.5" y2="686.7" stroke="#000000" stroke-width="1"/>
<line x1="89.5" y1="884.7" x2="89.5" y2="881.7" stroke="#000000" stroke-width="1"/>
<line x1="102.5" y1="683.7" x2="102.5" y2="688" stroke="#000000" stroke-width="1"/>
<line x1="102.5" y1="884.7" x2="102.5" y2="880.4" stroke="#000000" stroke-width="1"/>
<text transform="translate(102.82,678.4) scale(0.95,1)" font-size="9.6" text-anchor="middle" fill="#000000" font-family='"Liberation Sans", sans-serif' text-rendering="geometricPrecision">40</text>
<text transform="translate(102.82,896.5) scale(0.95,1)" font-size="9.6" text-anchor="middle" fill="#000000" font-family='"Liberation Sans", sans-serif' text-rendering="geometricPrecision">40</text>
<line x1="115.5" y1="683.7" x2="115.5" y2="686.7" stroke="#000000" stroke-width="1"/>
<line x1="115.5" y1="884.7" x2="115.5" y2="881.7" stroke="#000000" stroke-width="1"/>
<line x1="128.5" y1="683.7" x2="128.5" y2="688" stroke="#000000" stroke-width="1"/>
<line x1="128.5" y1="884.7" x2="128.5" y2="880.4" stroke="#000000" stroke-width="1"/>
<text transform="translate(128.48,678.4) scale(0.95,1)" font-size="9.6" text-anchor="middle" fill="#000000" font-family='"Liberation Sans", sans-serif' text-rendering="geometricPrecision">60</text>
<text transform="translate(128.48,896.5) scale(0.95,1)" font-size="9.6" text-anchor="middle" fill="#000000" font-family='"Liberation Sans", sans-serif' text-rendering="geometricPrecision">60</text>
<line x1="141.5" y1="683.7" x2="141.5" y2="686.7" stroke="#000000" stroke-width="1"/>
<line x1="141.5" y1="884.7" x2="141.5" y2="881.7" stroke="#000000" stroke-width="1"/>
<line x1="154.5" y1="683.7" x2="154.5" y2="688" stroke="#000000" stroke-width="1"/>
<line x1="154.5" y1="884.7" x2="154.5" y2="880.4" stroke="#000000" stroke-width="1"/>
<text transform="translate(154.14,678.4) scale(0.95,1)" font-size="9.6" text-anchor="middle" fill="#000000" font-family='"Liberation Sans", sans-serif' text-rendering="geometricPrecision">80</text>
<text transform="translate(154.14,896.5) scale(0.95,1)" font-size="9.6" text-anchor="middle" fill="#000000" font-family='"Liberation Sans", sans-serif' text-rendering="geometricPrecision">80</text>
<line x1="166.5" y1="683.7" x2="166.5" y2="686.7" stroke="#000000" stroke-width="1"/>
<line x1="166.5" y1="884.7" x2="166.5" y2="881.7" stroke="#000000" stroke-width="1"/>
<line x1="179.5" y1="683.7" x2="179.5" y2="688" stroke="#000000" stroke-width="1"/>
<line x1="179.5" y1="884.7" x2="179.5" y2="880.4" stroke="#000000" stroke-width="1"/>
<text transform="translate(179.8,678.4) scale(0.95,1)" font-size="9.6" text-anchor="middle" fill="#000000" font-family='"Liberation Sans", sans-serif' text-rendering="geometricPrecision">100</text>
<text transform="translate(179.8,896.5) scale(0.95,1)" font-size="9.6" text-anchor="middle" fill="#000000" font-family='"Liberation Sans", sans-serif' text-rendering="geometricPrecision">100</text>
<line x1="192.5" y1="683.7" x2="192.5" y2="686.7" stroke="#000000" stroke-width="1"/>
<line x1="192.5" y1="884.7" x2="192.5" y2="881.7" stroke="#000000" stroke-width="1"/>
<line x1="205.5" y1="683.7" x2="205.5" y2="688" stroke="#000000" stroke-width="1"/>
<line x1="205.5" y1="884.7" x2="205.5" y2="880.4" stroke="#000000" stroke-width="1"/>
<text transform="translate(205.46,678.4) scale(0.95,1)" font-size="9.6" text-anchor="middle" fill="#000000" font-family='"Liberation Sans", sans-serif' text-rendering="geometricPrecision">120</text>
<text transform="translate(205.46,896.5) scale(0.95,1)" font-size="9.6" text-anchor="middle" fill="#000000" font-family='"Liberation Sans", sans-serif' text-rendering="geometricPrecision">120</text>
<line x1="218.5" y1="683.7" x2="218.5" y2="686.7" stroke="#000000" stroke-width="1"/>
<line x1="218.5" y1="884.7" x2="218.5" y2="881.7" stroke="#000000" stroke-width="1"/>
<line x1="231.5" y1="683.7" x2="231.5" y2="688" stroke="#000000" stroke-width="1"/>
<line x1="231.5" y1="884.7" x2="231.5" y2="880.4" stroke="#000000" stroke-width="1"/>
<text transform="translate(231.12,678.4) scale(0.95,1)" font-size="9.6" text-anchor="middle" fill="#000000" font-family='"Liberation Sans", sans-serif' text-rendering="geometricPrecision">140</text>
<text transform="translate(231.12,896.5) scale(0.95,1)" font-size="9.6" text-anchor="middle" fill="#000000" font-family='"Liberation Sans", sans-serif' text-rendering="geometricPrecision">140</text>
<line x1="243.5" y1="683.7" x2="243.5" y2="686.7" stroke="#000000" stroke-width="1"/>
<line x1="243.5" y1="884.7" x2="243.5" y2="881.7" stroke="#000000" stroke-width="1"/>
<line x1="256.5" y1="683.7" x2="256.5" y2="688" stroke="#000000" stroke-width="1"/>
<line x1="256.5" y1="884.7" x2="256.5" y2="880.4" stroke="#000000" stroke-width="1"/>
<text transform="translate(256.78,678.4) scale(0.95,1)" font-size="9.6" text-anchor="middle" fill="#000000" font-family='"Liberation Sans", sans-serif' text-rendering="geometricPrecision">160</text>
<text transform="translate(256.78,896.5) scale(0.95,1)" font-size="9.6" text-anchor="middle" fill="#000000" font-family='"Liberation Sans", sans-serif' text-rendering="geometricPrecision">160</text>
<line x1="269.5" y1="683.7" x2="269.5" y2="686.7" stroke="#000000" stroke-width="1"/>
<line x1="269.5" y1="884.7" x2="269.5" y2="881.7" stroke="#000000" stroke-width="1"/>
<line x1="282.5" y1="683.7" x2="282.5" y2="688" stroke="#000000" stroke-width="1"/>
<line x1="282.5" y1="884.7" x2="282.5" y2="880.4" stroke="#000000" stroke-width="1"/>
<text transform="translate(282.44,678.4) scale(0.95,1)" font-size="9.6" text-anchor="middle" fill="#000000" font-family='"Liberation Sans", sans-serif' text-rendering="geometricPrecision">180</text>
<text transform="translate(282.44,896.5) scale(0.95,1)" font-size="9.6" text-anchor="middle" fill="#000000" font-family='"Liberation Sans", sans-serif' text-rendering="geometricPrecision">180</text>
<line x1="295.5" y1="683.7" x2="295.5" y2="686.7" stroke="#000000" stroke-width="1"/>
<line x1="295.5" y1="884.7" x2="295.5" y2="881.7" stroke="#000000" stroke-width="1"/>
<line x1="308.5" y1="683.7" x2="308.5" y2="688" stroke="#000000" stroke-width="1"/>
<line x1="308.5" y1="884.7" x2="308.5" y2="880.4" stroke="#000000" stroke-width="1"/>
<text transform="translate(308.1,678.4) scale(0.95,1)" font-size="9.6" text-anchor="middle" fill="#000000" font-family='"Liberation Sans", sans-serif' text-rendering="geometricPrecision">200</text>
<text transform="translate(308.1,896.5) scale(0.95,1)" font-size="9.6" text-anchor="middle" fill="#000000" font-family='"Liberation Sans", sans-serif' text-rendering="geometricPrecision">200</text>
<line x1="45" y1="884.5" x2="49.3" y2="884.5" stroke="#000000" stroke-width="1"/>
<text transform="translate(40.9,887.3) scale(0.95,1)" font-size="9.6" text-anchor="end" fill="#000000" font-family='"Liberation Sans", sans-serif' text-rendering="geometricPrecision">0,035</text>
<line x1="45" y1="867.5" x2="48" y2="867.5" stroke="#000000" stroke-width="1"/>
<line x1="45" y1="851.5" x2="49.3" y2="851.5" stroke="#000000" stroke-width="1"/>
<text transform="translate(40.9,853.8) scale(0.95,1)" font-size="9.6" text-anchor="end" fill="#000000" font-family='"Liberation Sans", sans-serif' text-rendering="geometricPrecision">0,040</text>
<line x1="45" y1="834.5" x2="48" y2="834.5" stroke="#000000" stroke-width="1"/>
<line x1="45" y1="817.5" x2="49.3" y2="817.5" stroke="#000000" stroke-width="1"/>
<text transform="translate(40.9,820.3) scale(0.95,1)" font-size="9.6" text-anchor="end" fill="#000000" font-family='"Liberation Sans", sans-serif' text-rendering="geometricPrecision">0,045</text>
<line x1="45" y1="800.5" x2="48" y2="800.5" stroke="#000000" stroke-width="1"/>
<line x1="45" y1="784.5" x2="49.3" y2="784.5" stroke="#000000" stroke-width="1"/>
<text transform="translate(40.9,786.8) scale(0.95,1)" font-size="9.6" text-anchor="end" fill="#000000" font-family='"Liberation Sans", sans-serif' text-rendering="geometricPrecision">0,050</text>
<line x1="45" y1="767.5" x2="48" y2="767.5" stroke="#000000" stroke-width="1"/>
<line x1="45" y1="750.5" x2="49.3" y2="750.5" stroke="#000000" stroke-width="1"/>
<text transform="translate(40.9,753.3) scale(0.95,1)" font-size="9.6" text-anchor="end" fill="#000000" font-family='"Liberation Sans", sans-serif' text-rendering="geometricPrecision">0,055</text>
<line x1="45" y1="733.5" x2="48" y2="733.5" stroke="#000000" stroke-width="1"/>
<line x1="45" y1="717.5" x2="49.3" y2="717.5" stroke="#000000" stroke-width="1"/>
<text transform="translate(40.9,719.8) scale(0.95,1)" font-size="9.6" text-anchor="end" fill="#000000" font-family='"Liberation Sans", sans-serif' text-rendering="geometricPrecision">0,060</text>
<line x1="45" y1="700.5" x2="48" y2="700.5" stroke="#000000" stroke-width="1"/>
<line x1="45" y1="683.5" x2="49.3" y2="683.5" stroke="#000000" stroke-width="1"/>
<text transform="translate(40.9,687) scale(0.95,1)" font-size="9.6" text-anchor="end" fill="#000000" font-family='"Liberation Sans", sans-serif' text-rendering="geometricPrecision">0,065</text>
<line x1="308.6" y1="884.5" x2="304.3" y2="884.5" stroke="#000000" stroke-width="1"/>
<text transform="translate(314,887.6) scale(0.95,1)" font-size="9.6" text-anchor="start" fill="#000000" font-family='"Liberation Sans", sans-serif' text-rendering="geometricPrecision">1,0</text>
<line x1="308.6" y1="869.5" x2="305.6" y2="869.5" stroke="#000000" stroke-width="1"/>
<line x1="308.6" y1="853.5" x2="304.3" y2="853.5" stroke="#000000" stroke-width="1"/>
<text transform="translate(314,856.72) scale(0.95,1)" font-size="9.6" text-anchor="start" fill="#000000" font-family='"Liberation Sans", sans-serif' text-rendering="geometricPrecision">1,1</text>
<line x1="308.6" y1="838.5" x2="305.6" y2="838.5" stroke="#000000" stroke-width="1"/>
<line x1="308.6" y1="822.5" x2="304.3" y2="822.5" stroke="#000000" stroke-width="1"/>
<text transform="translate(314,825.83) scale(0.95,1)" font-size="9.6" text-anchor="start" fill="#000000" font-family='"Liberation Sans", sans-serif' text-rendering="geometricPrecision">1,2</text>
<line x1="308.6" y1="807.5" x2="305.6" y2="807.5" stroke="#000000" stroke-width="1"/>
<line x1="308.6" y1="792.5" x2="304.3" y2="792.5" stroke="#000000" stroke-width="1"/>
<text transform="translate(314,794.95) scale(0.95,1)" font-size="9.6" text-anchor="start" fill="#000000" font-family='"Liberation Sans", sans-serif' text-rendering="geometricPrecision">1,3</text>
<line x1="308.6" y1="776.5" x2="305.6" y2="776.5" stroke="#000000" stroke-width="1"/>
<line x1="308.6" y1="761.5" x2="304.3" y2="761.5" stroke="#000000" stroke-width="1"/>
<text transform="translate(314,764.07) scale(0.95,1)" font-size="9.6" text-anchor="start" fill="#000000" font-family='"Liberation Sans", sans-serif' text-rendering="geometricPrecision">1,4</text>
<line x1="308.6" y1="745.5" x2="305.6" y2="745.5" stroke="#000000" stroke-width="1"/>
<line x1="308.6" y1="730.5" x2="304.3" y2="730.5" stroke="#000000" stroke-width="1"/>
<text transform="translate(314,733.18) scale(0.95,1)" font-size="9.6" text-anchor="start" fill="#000000" font-family='"Liberation Sans", sans-serif' text-rendering="geometricPrecision">1,5</text>
<line x1="308.6" y1="714.5" x2="305.6" y2="714.5" stroke="#000000" stroke-width="1"/>
<line x1="308.6" y1="699.5" x2="304.3" y2="699.5" stroke="#000000" stroke-width="1"/>
<text transform="translate(314,702.3) scale(0.95,1)" font-size="9.6" text-anchor="start" fill="#000000" font-family='"Liberation Sans", sans-serif' text-rendering="geometricPrecision">1,6</text>
<text x="316" y="690.8" font-size="10.8" text-anchor="start" fill="#000000" font-family='"Liberation Sans", sans-serif' font-weight="normal">m</text>
<line x1="335.5" y1="683.7" x2="335.5" y2="884.7" stroke="#000000" stroke-width="1.1"/>
<line x1="335.3" y1="884.5" x2="332.7" y2="884.5" stroke="#000000" stroke-width="1"/>
<line x1="335.3" y1="864.5" x2="330.5" y2="864.5" stroke="#000000" stroke-width="1"/>
<text transform="translate(340.2,867.1) scale(0.95,1)" font-size="9.6" text-anchor="start" fill="#000000" font-family='"Liberation Sans", sans-serif' text-rendering="geometricPrecision">2</text>
<line x1="335.3" y1="844.5" x2="332.7" y2="844.5" stroke="#000000" stroke-width="1"/>
<line x1="335.3" y1="824.5" x2="330.5" y2="824.5" stroke="#000000" stroke-width="1"/>
<text transform="translate(340.2,826.9) scale(0.95,1)" font-size="9.6" text-anchor="start" fill="#000000" font-family='"Liberation Sans", sans-serif' text-rendering="geometricPrecision">4</text>
<line x1="335.3" y1="804.5" x2="332.7" y2="804.5" stroke="#000000" stroke-width="1"/>
<line x1="335.3" y1="784.5" x2="330.5" y2="784.5" stroke="#000000" stroke-width="1"/>
<text transform="translate(340.2,786.7) scale(0.95,1)" font-size="9.6" text-anchor="start" fill="#000000" font-family='"Liberation Sans", sans-serif' text-rendering="geometricPrecision">6</text>
<line x1="335.3" y1="764.5" x2="332.7" y2="764.5" stroke="#000000" stroke-width="1"/>
<line x1="335.3" y1="744.5" x2="330.5" y2="744.5" stroke="#000000" stroke-width="1"/>
<text transform="translate(340.2,746.5) scale(0.95,1)" font-size="9.6" text-anchor="start" fill="#000000" font-family='"Liberation Sans", sans-serif' text-rendering="geometricPrecision">8</text>
<line x1="335.3" y1="723.5" x2="332.7" y2="723.5" stroke="#000000" stroke-width="1"/>
<line x1="335.3" y1="703.5" x2="330.5" y2="703.5" stroke="#000000" stroke-width="1"/>
<text transform="translate(340.2,706.3) scale(0.95,1)" font-size="9.6" text-anchor="start" fill="#000000" font-family='"Liberation Sans", sans-serif' text-rendering="geometricPrecision">10</text>
<line x1="335.3" y1="683.5" x2="332.7" y2="683.5" stroke="#000000" stroke-width="1"/>
<text transform="translate(10.7,807.4) rotate(-90)" font-size="11.2" font-family='"Liberation Sans", sans-serif' fill="#000" textLength="31.7" lengthAdjust="spacingAndGlyphs">Eo, eV</text>
<g transform="translate(355.2,754) rotate(90)">
<text x="0" y="0" font-size="10.6" font-family='"Liberation Sans", sans-serif' fill="#000" textLength="42.1" lengthAdjust="spacingAndGlyphs">Efficiency</text>
<text x="48.3" y="0" font-size="9.6" font-family='"Liberation Sans", sans-serif' fill="#000">&#951;</text>
<text x="53.1" y="2.2" font-size="6.5" font-family='"Liberation Sans", sans-serif' fill="#000">e</text>
<text x="56.3" y="0" font-size="10.6" font-family='"Liberation Sans", sans-serif' fill="#000">,</text>
<text x="60.3" y="0" font-size="11.2" font-family='"Liberation Sans", sans-serif' fill="#000">%</text>
</g>
<text x="159.7" y="914.1" font-size="11" text-anchor="start" fill="#000000" font-family='"Liberation Sans", sans-serif' font-weight="normal" textLength="35.6" lengthAdjust="spacingAndGlyphs">Time, h</text>
<text x="162.6" y="962.6" font-size="22.5" text-anchor="start" fill="#000000" font-family='"Liberation Serif", serif' font-weight="bold" letter-spacing="0.3">4c.</text>
<line x1="54.76" y1="737.78" x2="77.84" y2="726.62" stroke="#ff0000" stroke-width="0.9"/>
<line x1="86.02" y1="725.95" x2="108.68" y2="732.65" stroke="#ff0000" stroke-width="0.9"/>
<line x1="116.91" y1="732.09" x2="139.99" y2="721.71" stroke="#ff0000" stroke-width="0.9"/>
<line x1="148.4" y1="719.39" x2="170.1" y2="720.31" stroke="#ff0000" stroke-width="0.9"/>
<line x1="178.8" y1="721.45" x2="201" y2="726.35" stroke="#ff0000" stroke-width="0.9"/>
<line x1="209.67" y1="726.82" x2="232.13" y2="724.38" stroke="#ff0000" stroke-width="0.9"/>
<line x1="55.33" y1="785" x2="77.57" y2="789.2" stroke="#0000ff" stroke-width="0.9"/>
<line x1="85.99" y1="789.04" x2="108.71" y2="783.86" stroke="#0000ff" stroke-width="0.9"/>
<line x1="116.92" y1="784.41" x2="139.98" y2="793.09" stroke="#0000ff" stroke-width="0.9"/>
<line x1="148.22" y1="791.4" x2="170.28" y2="787.2" stroke="#0000ff" stroke-width="0.9"/>
<line x1="178.78" y1="786.02" x2="201.02" y2="784.08" stroke="#0000ff" stroke-width="0.9"/>
<line x1="209.5" y1="784.64" x2="232.3" y2="789.76" stroke="#0000ff" stroke-width="0.9"/>
<line x1="57.9" y1="860.01" x2="75.4" y2="860.59" stroke="#000" stroke-width="1" stroke-opacity="0.9"/>
<line x1="88.56" y1="860.07" x2="106.14" y2="858.13" stroke="#000" stroke-width="1" stroke-opacity="0.9"/>
<line x1="119.29" y1="857.04" x2="137.21" y2="856.06" stroke="#000" stroke-width="1" stroke-opacity="0.9"/>
<line x1="149.95" y1="851.2" x2="168.35" y2="858.4" stroke="#000" stroke-width="1" stroke-opacity="0.9"/>
<line x1="180.93" y1="859.3" x2="198.87" y2="855.1" stroke="#000" stroke-width="1" stroke-opacity="0.9"/>
<line x1="211.88" y1="853.09" x2="229.42" y2="851.71" stroke="#000" stroke-width="1" stroke-opacity="0.9"/>
<rect x="48" y="736" width="6" height="7" fill="#ff0000" shape-rendering="crispEdges"/>
<rect x="79" y="722" width="6" height="6" fill="#ff0000" shape-rendering="crispEdges"/>
<rect x="110" y="731" width="6" height="6" fill="#ff0000" shape-rendering="crispEdges"/>
<rect x="141" y="717" width="6" height="6" fill="#ff0000" shape-rendering="crispEdges"/>
<rect x="141" y="716" width="6" height="6" fill="#ff0000" shape-rendering="crispEdges"/>
<rect x="171" y="717" width="7" height="7" fill="#ff0000" shape-rendering="crispEdges"/>
<rect x="202" y="724" width="6" height="6" fill="#ff0000" shape-rendering="crispEdges"/>
<rect x="233" y="721" width="7" height="6" fill="#ff0000" shape-rendering="crispEdges"/>
<circle cx="51.1" cy="784.2" r="3.15" fill="#fff" stroke="#0000ff" stroke-width="0.95"/>
<circle cx="81.8" cy="790" r="3.15" fill="#fff" stroke="#0000ff" stroke-width="0.95"/>
<circle cx="112.9" cy="782.9" r="3.15" fill="#fff" stroke="#0000ff" stroke-width="0.95"/>
<circle cx="144" cy="794.6" r="3.15" fill="#fff" stroke="#0000ff" stroke-width="0.95"/>
<circle cx="144" cy="792.2" r="3.15" fill="#fff" stroke="#0000ff" stroke-width="0.95"/>
<circle cx="174.5" cy="786.4" r="3.15" fill="#fff" stroke="#0000ff" stroke-width="0.95"/>
<circle cx="205.3" cy="783.7" r="3.15" fill="#fff" stroke="#0000ff" stroke-width="0.95"/>
<circle cx="236.5" cy="790.7" r="3.15" fill="#fff" stroke="#0000ff" stroke-width="0.95"/>
<line x1="46.3" y1="859.5" x2="56.3" y2="859.5" stroke="#000000" stroke-width="1.05"/>
<line x1="51.5" y1="854.8" x2="51.5" y2="864.8" stroke="#000000" stroke-width="1.05"/>
<line x1="77" y1="860.5" x2="87" y2="860.5" stroke="#000000" stroke-width="1.05"/>
<line x1="82.5" y1="855.8" x2="82.5" y2="865.8" stroke="#000000" stroke-width="1.05"/>
<line x1="107.7" y1="857.5" x2="117.7" y2="857.5" stroke="#000000" stroke-width="1.05"/>
<line x1="112.5" y1="852.4" x2="112.5" y2="862.4" stroke="#000000" stroke-width="1.05"/>
<line x1="138.8" y1="855.5" x2="148.8" y2="855.5" stroke="#000000" stroke-width="1.05"/>
<line x1="143.5" y1="850.7" x2="143.5" y2="860.7" stroke="#000000" stroke-width="1.05"/>
<line x1="138.8" y1="848.5" x2="148.8" y2="848.5" stroke="#000000" stroke-width="1.05"/>
<line x1="143.5" y1="843.8" x2="143.5" y2="853.8" stroke="#000000" stroke-width="1.05"/>
<line x1="169.5" y1="860.5" x2="179.5" y2="860.5" stroke="#000000" stroke-width="1.05"/>
<line x1="174.5" y1="855.8" x2="174.5" y2="865.8" stroke="#000000" stroke-width="1.05"/>
<line x1="200.3" y1="853.5" x2="210.3" y2="853.5" stroke="#000000" stroke-width="1.05"/>
<line x1="205.5" y1="848.6" x2="205.5" y2="858.6" stroke="#000000" stroke-width="1.05"/>
<line x1="231" y1="851.5" x2="241" y2="851.5" stroke="#000000" stroke-width="1.05"/>
<line x1="236.5" y1="846.2" x2="236.5" y2="856.2" stroke="#000000" stroke-width="1.05"/>
<line x1="235" y1="717.5" x2="250.7" y2="717.5" stroke="#ff0000" stroke-width="1.2"/>
<line x1="235" y1="731.5" x2="250.7" y2="731.5" stroke="#ff0000" stroke-width="1.2"/>
<line x1="236.6" y1="717.1" x2="236.6" y2="731.9" stroke="#ff0000" stroke-width="1.1"/>
<polygon points="236.6,717.7 237.9,720.7 237.9,726.5 238.5,727.1 236.6,730.3 234.7,727.1 235.3,726.5 235.3,720.7" fill="#ff0000"/>
<text transform="translate(251.9,727.9) scale(0.68,1)" font-size="8.8" text-anchor="start" fill="#ff0000" font-family='"Liberation Sans", sans-serif' text-rendering="geometricPrecision">&#948;</text>
<text transform="translate(255.3,727.9) scale(1.01,1)" font-size="9" text-anchor="start" fill="#ff0000" font-family='"Liberation Sans", sans-serif' text-rendering="geometricPrecision">Eo x100</text>
<line x1="234.3" y1="783.5" x2="249.1" y2="783.5" stroke="#0000ff" stroke-width="1.2"/>
<line x1="234.3" y1="799.5" x2="249.1" y2="799.5" stroke="#0000ff" stroke-width="1.2"/>
<line x1="237" y1="783.4" x2="237" y2="799.3" stroke="#0000ff" stroke-width="1.1"/>
<polygon points="237,784 238.3,787.5 238.3,793.3 238.9,793.9 237,797.7 235.1,793.9 235.7,793.3 235.7,787.5" fill="#0000ff"/>
<text transform="translate(248.8,793.6) scale(0.68,1)" font-size="8.8" text-anchor="start" fill="#0000ff" font-family='"Liberation Sans", sans-serif' text-rendering="geometricPrecision">&#948;</text>
<text transform="translate(251.9,793.6) scale(1.03,1)" font-size="9" text-anchor="start" fill="#0000ff" font-family='"Liberation Sans", sans-serif' text-rendering="geometricPrecision">m x100</text>
<rect x="186.5" y="696.5" width="54" height="17" fill="#fff" stroke="#000" stroke-width="1.1"/>
<line x1="191.1" y1="705.5" x2="201.1" y2="705.5" stroke="#ff0000" stroke-width="1.2"/>
<line x1="209.9" y1="705.5" x2="220.2" y2="705.5" stroke="#ff0000" stroke-width="1.2"/>
<rect x="202" y="702" width="7" height="6" fill="#ff0000" shape-rendering="crispEdges"/>
<text x="222.4" y="708.8" font-size="11" text-anchor="start" fill="#000000" font-family='"Liberation Sans", sans-serif' font-weight="normal" textLength="13.4" lengthAdjust="spacingAndGlyphs">Eo</text>
<rect x="196.5" y="761.5" width="41" height="14" fill="#fff" stroke="#000" stroke-width="1.1"/>
<line x1="203.1" y1="769.5" x2="210.7" y2="769.5" stroke="#0000ff" stroke-width="1.2"/>
<line x1="219.1" y1="769.5" x2="226.9" y2="769.5" stroke="#0000ff" stroke-width="1.2"/>
<circle cx="214.9" cy="769.4" r="3.1" fill="#fff" stroke="#0000ff" stroke-width="0.95"/>
<text x="228.9" y="773.2" font-size="10" text-anchor="start" fill="#000000" font-family='"Liberation Sans", sans-serif' font-weight="normal" textLength="8.2" lengthAdjust="spacingAndGlyphs">m</text>
<rect x="197.5" y="862.5" width="41" height="12" fill="#fff" stroke="#000" stroke-width="1.1"/>
<line x1="201.1" y1="869.5" x2="206.9" y2="869.5" stroke="#000000" stroke-width="1.2"/>
<line x1="220.1" y1="869.5" x2="225.2" y2="869.5" stroke="#000000" stroke-width="1.2"/>
<line x1="208.7" y1="869.5" x2="218.3" y2="869.5" stroke="#000000" stroke-width="1.05"/>
<line x1="213.5" y1="864.7" x2="213.5" y2="873.9" stroke="#000000" stroke-width="1.05"/>
<text x="227.3" y="872.4" font-size="8.8" text-anchor="start" fill="#000000" font-family='"Liberation Sans", sans-serif' font-weight="normal">&#951;</text>
<ellipse cx="234" cy="872.6" rx="1.5" ry="1.2" fill="#111"/>
</svg>
</body></html>
